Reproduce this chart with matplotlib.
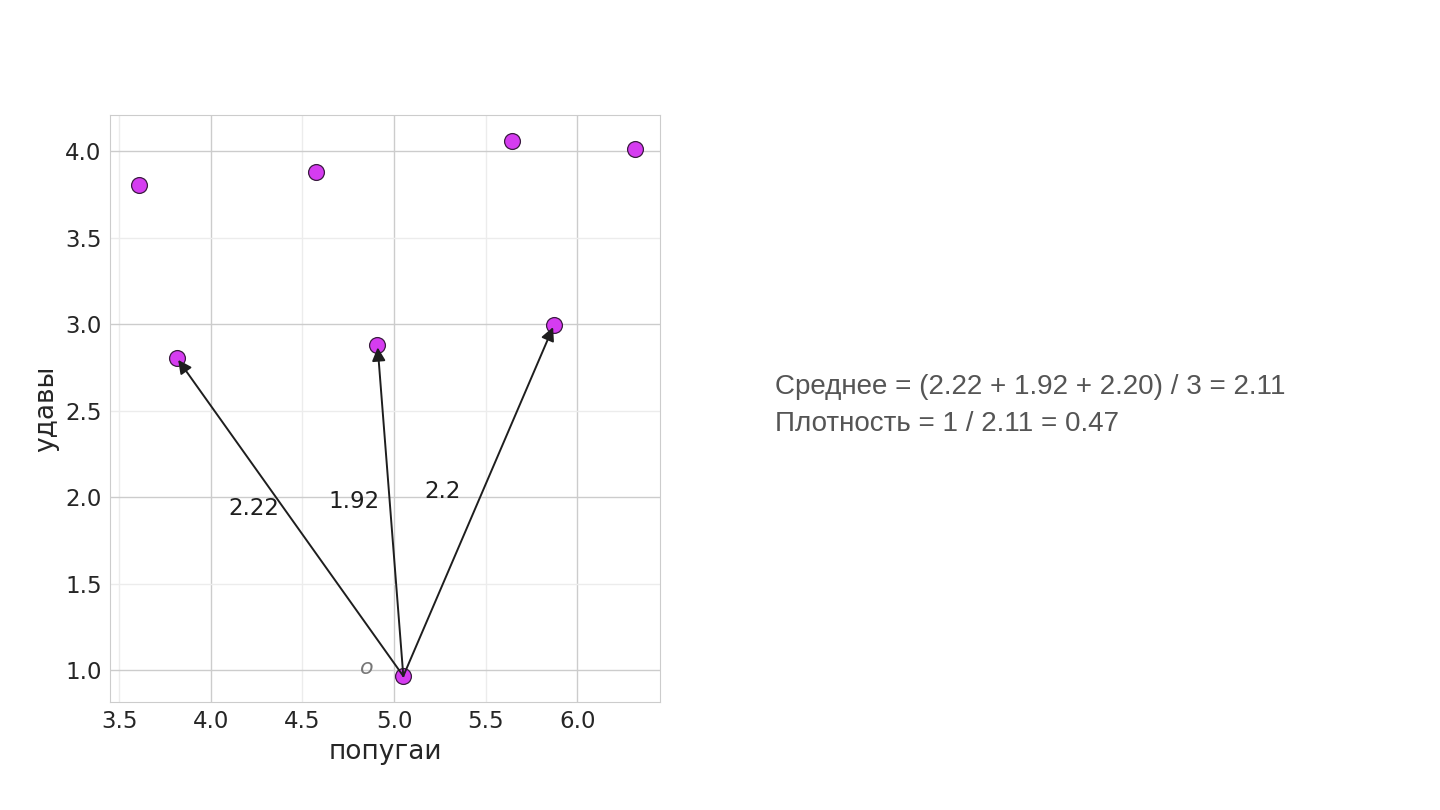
import numpy as np
import matplotlib.pyplot as plt
from matplotlib.ticker import MultipleLocator, FormatStrFormatter
import seaborn as sns

# points (попугаи, удавы)
px = [3.606, 4.571, 5.644, 6.315, 3.813, 4.909, 5.873, 5.050]
py = [3.805, 3.878, 4.058, 4.012, 2.807, 2.882, 2.998, 0.965]
origin_idx = 7
neigh_idx = [4, 5, 6]
dist_labels = ["2.22", "1.92", "2.2"]
label_x = [4.234, 4.783, 5.263]
label_y = [1.933, 1.973, 2.030]

sns.set_style("whitegrid")
plt.rcParams['font.family'] = ['DejaVu Sans']

fig = plt.figure(figsize=(14.4, 8.1), dpi=100)
ax = fig.add_axes([0.0764, 0.1333, 0.3819, 0.7247])

ax.scatter(px, py, s=130, c="#d53cf0", edgecolors="#3a1a40", linewidths=0.9, zorder=3)

ox, oy = px[origin_idx], py[origin_idx]
for i, lab, lx, ly in zip(neigh_idx, dist_labels, label_x, label_y):
    ax.annotate("", xy=(px[i], py[i]), xytext=(ox, oy),
                arrowprops=dict(arrowstyle="-|>", color="#1e1e1e", lw=1.4,
                                mutation_scale=20, shrinkA=0, shrinkB=2), zorder=4)
    ax.text(lx, ly, lab, fontsize=16.5, color="#1e1e1e", ha="center", va="center")

ax.text(4.85, 1.01, "o", fontsize=16, style="italic", color="#777777",
        ha="center", va="center")

ax.set_xlim(3.45, 6.45)
ax.set_ylim(0.815, 4.21)

for axis in (ax.xaxis, ax.yaxis):
    axis.set_major_locator(MultipleLocator(1.0))
    axis.set_minor_locator(MultipleLocator(0.5))
    axis.set_major_formatter(FormatStrFormatter("%.1f"))
    axis.set_minor_formatter(FormatStrFormatter("%.1f"))
ax.grid(which="major", color="#cccccc", lw=1.0)
ax.grid(which="minor", color="#ececec", lw=1.0)
ax.tick_params(which="both", labelsize=16.5, colors="#262626", length=0, pad=6)
for sp in ax.spines.values():
    sp.set_color("#cccccc")

ax.set_xlabel("попугаи", fontsize=19, color="#262626")
ax.set_ylabel("удавы", fontsize=19, color="#262626")

fig.text(0.538, 0.522, "Среднее = (2.22 + 1.92 + 2.20) / 3 = 2.11",
         fontsize=20, family="Liberation Sans", color="#555555", va="center")
fig.text(0.538, 0.476, "Плотность = 1 / 2.11 = 0.47",
         fontsize=20, family="Liberation Sans", color="#555555", va="center")

fig.savefig("out.png", dpi=100)
